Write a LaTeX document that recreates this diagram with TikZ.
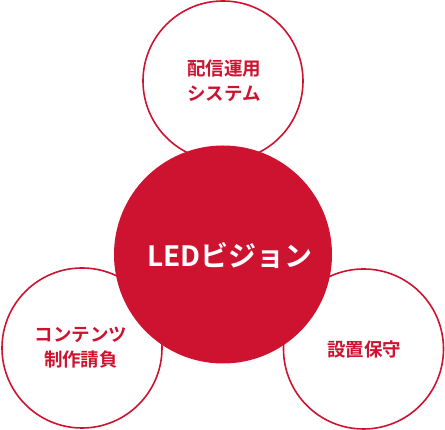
\documentclass[tikz,border=0pt]{standalone}
\usepackage{fontspec}
\newfontfamily\jpfont{Noto Sans CJK JP}[BoldFont=* Bold]
\definecolor{crim}{HTML}{CE1330}
\begin{document}
\begin{tikzpicture}[x=1pt,y=1pt,
  sat/.style={circle,draw=crim,line width=1.6pt,fill=white,minimum size=160pt,inner sep=0pt},
  hub/.style={circle,fill=crim,minimum size=218pt,inner sep=0pt},
  lbl/.style={text=crim,font=\jpfont\bfseries\fontsize{18.5}{24.5}\selectfont,align=center}]
\useasboundingbox (0,0) rectangle (445,430);
\node[sat] (top) at (223,349) {};
\node[sat] (left) at (82,82) {};
\node[sat] (right) at (363.5,81) {};
\node[hub] (hub) at (223,175.5) {};
\node[lbl] (toptext) at (224,349) {配信運用\\システム};
\node[lbl] (lefttext) at (81,82.5) {コンテンツ\\制作請負};
\node[lbl] (righttext) at (364,81) {設置保守};
\node[text=white,font=\jpfont\bfseries\fontsize{28}{30}\selectfont] (hubtext) at (230,174) {LEDビジョン};
\end{tikzpicture}
\end{document}
